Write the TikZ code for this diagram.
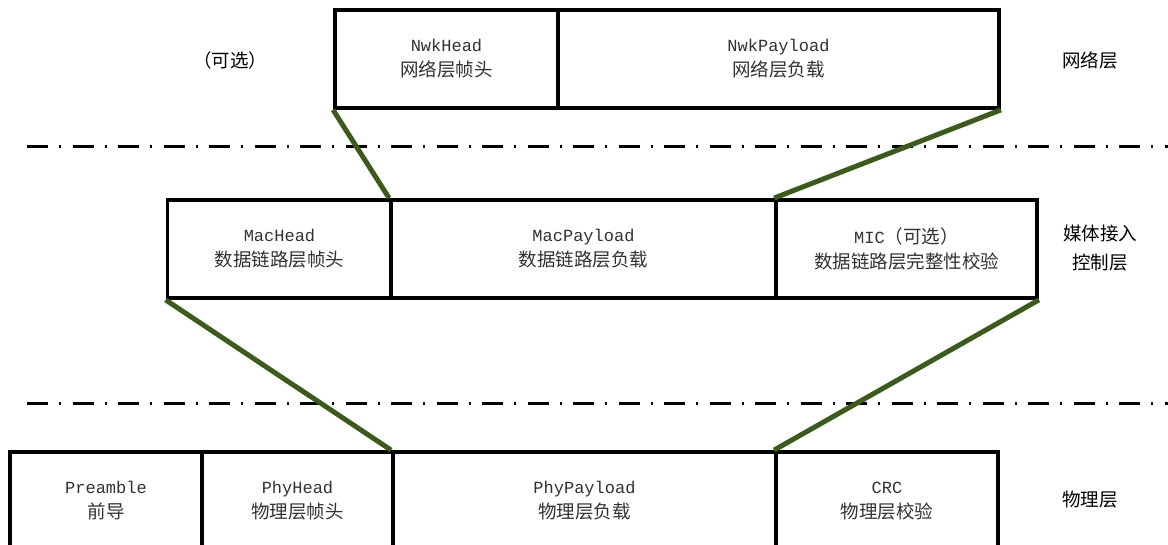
\documentclass[tikz,border=0pt]{standalone}
\usepackage{fontspec}
\newfontfamily\cjk{Noto Sans CJK SC}
\setmonofont{Liberation Mono}
\definecolor{linkgreen}{RGB}{60,90,30}
\definecolor{txtgray}{RGB}{50,50,50}
\newcommand{\cellcjk}{\fontsize{18.5}{25}\selectfont\cjk}
\begin{document}
\begin{tikzpicture}[x=1pt,y=-1pt,
  cell/.style={draw=black, line width=3.8pt, fill=white, inner sep=0pt,
    minimum height=98pt, align=center, text=txtgray,
    font=\fontsize{17}{25}\selectfont},
  layerlabel/.style={align=center, text=black, font=\fontsize{18.5}{29}\selectfont\cjk},
  sepline/.style={line width=3pt, dash pattern=on 21pt off 11.3pt on 2pt off 11.2pt},
  link/.style={draw=linkgreen, line width=5pt}]
\useasboundingbox (0,0) rectangle (1168,545);
\clip (0,0) rectangle (1168,545);

% layer separators
\coordinate (s1a) at (27,147);
\coordinate (s1b) at (1170,147);
\coordinate (s2a) at (27,404);
\coordinate (s2b) at (1170,404);
\draw[sepline] (s1a) -- (s1b);
\draw[sepline] (s2a) -- (s2b);

% network layer frame
\node[cell, minimum width=223pt] (nwkhead) at (446.5,59)
  {\texttt{NwkHead}\\{\cellcjk 网络层帧头}};
\node[cell, minimum width=441pt] (nwkpayload) at (778.5,59)
  {\texttt{NwkPayload}\\{\cellcjk 网络层负载}};

% MAC layer frame
\node[cell, minimum width=224pt] (machead) at (279.5,249)
  {\texttt{MacHead}\\{\cellcjk 数据链路层帧头}};
\node[cell, minimum width=385pt] (macpayload) at (583.5,249)
  {\texttt{MacPayload}\\{\cellcjk 数据链路层负载}};
\node[cell, minimum width=261pt] (mic) at (906.5,249)
  {\texttt{MIC}{\cellcjk （可选）}\\{\cellcjk 数据链路层完整性校验}};

% physical layer frame
\node[cell, minimum width=192pt] (preamble) at (106,501)
  {\texttt{Preamble}\\{\cellcjk 前导}};
\node[cell, minimum width=191pt] (phyhead) at (297.5,501)
  {\texttt{PhyHead}\\{\cellcjk 物理层帧头}};
\node[cell, minimum width=383pt] (phypayload) at (584.5,501)
  {\texttt{PhyPayload}\\{\cellcjk 物理层负载}};
\node[cell, minimum width=222pt] (crc) at (887,501)
  {\texttt{CRC}\\{\cellcjk 物理层校验}};

% green links from field to field
\draw[link] (nwkhead.south west) -- (macpayload.north west);
\draw[link] (nwkpayload.south east) -- (mic.north west);
\draw[link] (machead.south west) -- (phypayload.north west);
\draw[link] (mic.south east) -- (crc.north west);

% layer names
\node[layerlabel] (optnote) at (230,60) {（可选）};
\node[layerlabel] (netlayer) at (1090,60) {网络层};
\node[layerlabel] (maclayer) at (1100,248) {媒体接入\\控制层};
\node[layerlabel] (phylayer) at (1090,500) {物理层};
\end{tikzpicture}
\end{document}
